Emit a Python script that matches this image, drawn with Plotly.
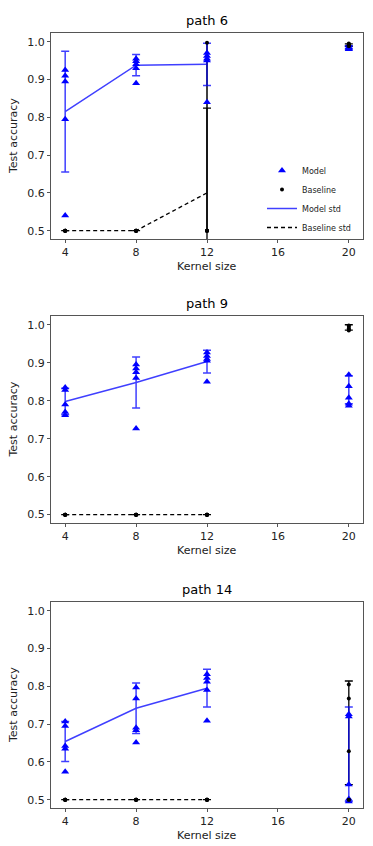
import plotly.graph_objects as go

kernels = [4, 8, 12, 20]
line_kernels = [4, 8, 12]
panel_titles = ['path 6', 'path 9', 'path 14']
x_ticks = [4, 8, 12, 16, 20]
y_ticks = [0.5, 0.6, 0.7, 0.8, 0.9, 1.0]

# individual runs, one list per kernel size (4, 8, 12, 20)
model_p6 = [[0.925, 0.91, 0.895, 0.795, 0.54],
            [0.955, 0.948, 0.94, 0.93, 0.89],
            [0.97, 0.962, 0.955, 0.95, 0.84],
            [0.99, 0.985, 0.983, 0.98, 0.98]]
baseline_p6 = [[0.5, 0.5, 0.5, 0.5, 0.5],
               [0.5, 0.5, 0.5, 0.5, 0.5],
               [0.5, 0.5, 0.5, 0.5, 0.997],
               [0.995, 0.993, 0.99, 0.99, 0.988]]
model_p9 = [[0.835, 0.828, 0.79, 0.77, 0.762],
            [0.895, 0.885, 0.875, 0.86, 0.727],
            [0.927, 0.918, 0.91, 0.905, 0.85],
            [0.868, 0.838, 0.808, 0.792, 0.787]]
baseline_p9 = [[0.5, 0.5, 0.5, 0.5, 0.5],
               [0.5, 0.5, 0.5, 0.5, 0.5],
               [0.5, 0.5, 0.5, 0.5, 0.5],
               [0.998, 0.995, 0.99, 0.987, 0.985]]
model_p14 = [[0.707, 0.695, 0.642, 0.635, 0.574],
             [0.797, 0.768, 0.69, 0.684, 0.651],
             [0.832, 0.822, 0.812, 0.79, 0.709],
             [0.726, 0.72, 0.54, 0.502, 0.495]]
baseline_p14 = [[0.5, 0.5, 0.5, 0.5, 0.5],
                [0.5, 0.5, 0.5, 0.5, 0.5],
                [0.5, 0.5, 0.5, 0.5, 0.5],
                [0.805, 0.768, 0.628, 0.5, 0.5]]

# mean / std for kernels 4, 8, 12 (joined by a line)
model_mean = [[0.815, 0.938, 0.94], [0.798, 0.848, 0.903], [0.654, 0.742, 0.795]]
model_std = [[0.16, 0.028, 0.056], [0.035, 0.067, 0.03], [0.053, 0.067, 0.05]]
baseline_mean = [[0.5, 0.5, 0.6], [0.5, 0.5, 0.5], [0.5, 0.5, 0.5]]
baseline_std = [[0.0, 0.0, 0.224], [0.0, 0.0, 0.0], [0.0, 0.0, 0.0]]

# mean / std at kernel 20 (drawn on its own)
model_mean_20 = [0.985, 0.829, 0.62]
model_std_20 = [0.004, 0.037, 0.125]
baseline_mean_20 = [0.991, 0.993, 0.677]
baseline_std_20 = [0.003, 0.007, 0.137]

# min-max span of baseline runs at kernel 12 in path 6
span_x = [12, 12]
span_y = [0.5, 1.0]

models = [model_p6, model_p9, model_p14]
baselines = [baseline_p6, baseline_p9, baseline_p14]

W, H = 373, 846
boxes = [(33, 239), (316, 523), (602, 808)]  # top / bottom in px
x_left, x_right = 51, 363

BLUE = '#0000ff'
DASH = '4px,3px'
fig = go.Figure()

for i in range(3):
    xa = 'x' if i == 0 else f'x{i + 1}'
    ya = 'y' if i == 0 else f'y{i + 1}'
    first = i == 0

    mx, my = [], []
    bx, by = [], []
    for k, runs in zip(kernels, models[i]):
        mx += [k] * len(runs)
        my += runs
    for k, runs in zip(kernels, baselines[i]):
        bx += [k] * len(runs)
        by += runs

    if first:
        fig.add_trace(go.Scatter(x=span_x, y=span_y, mode='lines',
                                 line=dict(color='black', width=1.5),
                                 showlegend=False, xaxis=xa, yaxis=ya))

    fig.add_trace(go.Scatter(
        x=line_kernels, y=baseline_mean[i], mode='lines',
        line=dict(color='black', width=1.3, dash=DASH),
        error_y=dict(type='data', array=baseline_std[i], color='black',
                     thickness=1.3, width=4),
        name='Baseline std', legendrank=4, showlegend=first,
        xaxis=xa, yaxis=ya))
    fig.add_trace(go.Scatter(
        x=[20], y=[baseline_mean_20[i]], mode='lines',
        error_y=dict(type='data', array=[baseline_std_20[i]], color='black',
                     thickness=1.3, width=4),
        showlegend=False, xaxis=xa, yaxis=ya))
    fig.add_trace(go.Scatter(
        x=line_kernels, y=model_mean[i], mode='lines',
        line=dict(color=BLUE, width=1.5), opacity=0.75,
        error_y=dict(type='data', array=model_std[i], color=BLUE,
                     thickness=1.5, width=4),
        name='Model std', legendrank=3, showlegend=first,
        xaxis=xa, yaxis=ya))
    fig.add_trace(go.Scatter(
        x=[20], y=[model_mean_20[i]], mode='lines', opacity=0.75,
        error_y=dict(type='data', array=[model_std_20[i]], color=BLUE,
                     thickness=1.5, width=4),
        showlegend=False, xaxis=xa, yaxis=ya))
    fig.add_trace(go.Scatter(
        x=mx, y=my, mode='markers',
        marker=dict(symbol='triangle-up', size=7, color=BLUE),
        name='Model', legendrank=1, showlegend=first,
        xaxis=xa, yaxis=ya))
    fig.add_trace(go.Scatter(
        x=bx, y=by, mode='markers',
        marker=dict(symbol='circle', size=4, color='black'),
        name='Baseline', legendrank=2, showlegend=first,
        xaxis=xa, yaxis=ya))

    top, bottom = boxes[i]
    axis_style = dict(showline=True, linecolor='#555555', linewidth=1,
                      mirror=True, ticks='outside', ticklen=3,
                      tickcolor='#555555', showgrid=False, zeroline=False,
                      tickfont=dict(size=11, color='#222222'))
    fig.layout[f'xaxis{i + 1 if i else ""}'] = dict(
        axis_style, domain=[x_left / W, x_right / W], range=[3.2, 20.8],
        tickvals=x_ticks, anchor=ya)
    fig.layout[f'yaxis{i + 1 if i else ""}'] = dict(
        axis_style, domain=[1 - bottom / H, 1 - top / H], range=[0.478, 1.023],
        tickvals=y_ticks, tickformat='.1f', anchor=xa)

    cx = (x_left + x_right) / 2 / W
    fig.add_annotation(text=panel_titles[i], x=cx, y=1 - (top - 13) / H,
                       xanchor='center', yanchor='middle',
                       xref='paper', yref='paper', showarrow=False,
                       font=dict(size=13, color='black'))
    fig.add_annotation(text='Kernel size', x=cx, y=1 - (bottom + 27) / H,
                       xanchor='center', yanchor='middle',
                       xref='paper', yref='paper', showarrow=False,
                       font=dict(size=11, color='#222222'))
    fig.add_annotation(text='Test accuracy', x=13 / W,
                       y=1 - (top + bottom) / 2 / H, textangle=-90,
                       xanchor='center', yanchor='middle',
                       xref='paper', yref='paper', showarrow=False,
                       font=dict(size=11, color='#222222'))

fig.update_layout(
    width=W, height=H,
    margin=dict(l=0, r=0, t=0, b=0),
    paper_bgcolor='white', plot_bgcolor='white',
    font=dict(family='DejaVu Sans'),
    legend=dict(x=262 / W, y=1 - 156 / H, xanchor='left', yanchor='top',
                bgcolor='rgba(255,255,255,0)', font=dict(size=8, color='#222222'),
                tracegroupgap=0, itemwidth=30),
)

fig.write_html('out.html', config={'displayModeBar': False},
               post_script="document.body.style.margin='0';"
                           "document.body.style.overflow='hidden';")
